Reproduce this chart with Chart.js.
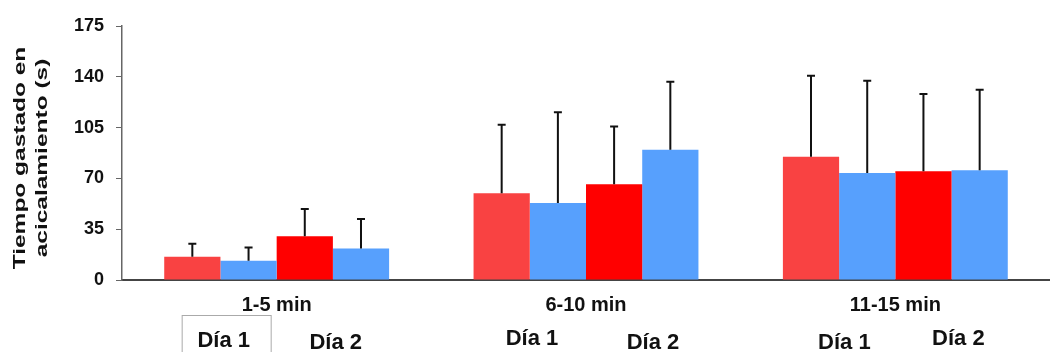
<!DOCTYPE html>
<html>
<head>
<meta charset="utf-8">
<script src="https://cdn.jsdelivr.net/npm/chart.js@4.4.1/dist/chart.umd.min.js"></script>
<style>
  html, body { margin: 0; padding: 0; background: #fff; }
  #wrap { width: 1050px; height: 352px; }
</style>
</head>
<body>
<div id="wrap"><canvas id="grafico"></canvas></div>
<script>
const categorias = ["1-5 min", "6-10 min", "11-15 min"];
const diaLabels = ["Día 1", "Día 2"];
const yTicks = [0, 35, 70, 105, 140, 175];

// medias (s)
const dia1Rojo = [16, 59.7, 84.9];
const dia1Azul = [13.2, 53, 73.7];
const dia2Rojo = [30.2, 65.9, 75];
const dia2Azul = [21.7, 89.7, 75.7];

// desviaciones (solo hacia arriba)
const errDia1Rojo = [9, 47.3, 55.8];
const errDia1Azul = [9.2, 62.5, 63.6];
const errDia2Rojo = [18.8, 39.8, 53.1];
const errDia2Azul = [20.3, 46.9, 55.4];

const FUENTE = "'Liberation Sans', Arial, sans-serif";

const barrasError = {
  id: "barrasError",
  afterDatasetsDraw(chart) {
    const ctx = chart.ctx;
    const y = chart.scales.y;
    ctx.save();
    ctx.strokeStyle = "#111";
    ctx.lineWidth = 2;
    chart.data.datasets.forEach((ds, i) => {
      const meta = chart.getDatasetMeta(i);
      meta.data.forEach((bar, j) => {
        const top = y.getPixelForValue(ds.data[j] + ds.err[j]);
        ctx.beginPath();
        ctx.moveTo(bar.x, bar.y);
        ctx.lineTo(bar.x, top);
        ctx.moveTo(bar.x - 4, top);
        ctx.lineTo(bar.x + 4, top);
        ctx.stroke();
      });
    });
    ctx.restore();
  }
};

const textosExtra = {
  id: "textosExtra",
  afterDraw(chart) {
    const ctx = chart.ctx;
    const x = chart.scales.x;
    const area = chart.chartArea;
    ctx.save();
    // titulo eje y, estirado como en el original
    ctx.fillStyle = "#111";
    ctx.font = "bold 17px " + FUENTE;
    ctx.textAlign = "center";
    ctx.textBaseline = "middle";
    const cy = (area.top + area.bottom) / 2 + 5;
    [["Tiempo gastado en", 20], ["acicalamiento (s)", 42]].forEach(([t, px]) => {
      ctx.save();
      ctx.translate(px, cy);
      ctx.rotate(-Math.PI / 2);
      ctx.scale(1.44, 1);
      ctx.fillText(t, 0, 0);
      ctx.restore();
    });

    // etiquetas Día 1 / Día 2 debajo de cada grupo
    const desfases = [[-53, 59], [-54, 67], [-51, 63]];
    const bases = [[347, 349], [345, 349], [349, 345]];
    ctx.font = "bold 22px " + FUENTE;
    ctx.textBaseline = "alphabetic";
    categorias.forEach((c, i) => {
      const cx = x.getPixelForValue(i);
      diaLabels.forEach((d, k) => {
        ctx.fillText(d, cx + desfases[i][k], bases[i][k]);
      });
    });
    // recuadro que rodea el primer "Día 1"
    const c0 = x.getPixelForValue(0);
    ctx.strokeStyle = "#aaa";
    ctx.lineWidth = 1;
    ctx.strokeRect(c0 - 94.5, 315.5, 89, 40);
    ctx.restore();
  }
};

new Chart(document.getElementById("grafico"), {
  type: "bar",
  data: {
    labels: categorias,
    datasets: [
      { label: "Día 1 (a)", data: dia1Rojo, err: errDia1Rojo, backgroundColor: "#f94242" },
      { label: "Día 1 (b)", data: dia1Azul, err: errDia1Azul, backgroundColor: "#57a0fd" },
      { label: "Día 2 (a)", data: dia2Rojo, err: errDia2Rojo, backgroundColor: "#ff0000" },
      { label: "Día 2 (b)", data: dia2Azul, err: errDia2Azul, backgroundColor: "#57a0fd" }
    ]
  },
  options: {
    responsive: true,
    maintainAspectRatio: false,
    animation: false,
    layout: { padding: { top: 26, right: 0, bottom: 30, left: 0 } },
    datasets: { bar: { categoryPercentage: 0.727, barPercentage: 1 } },
    plugins: { legend: { display: false }, tooltip: { enabled: false } },
    scales: {
      x: {
        grid: { display: false },
        border: { display: true, color: "#444", width: 2 },
        ticks: { color: "#111", padding: 5, font: { family: FUENTE, size: 20, weight: "bold" } }
      },
      y: {
        min: 0,
        max: 175,
        afterFit(scale) { scale.width = 122; },
        afterBuildTicks(scale) { scale.ticks = yTicks.map(v => ({ value: v })); },
        grid: { drawOnChartArea: false, drawTicks: true, tickLength: 6, color: "#666" },
        border: { display: true, color: "#666", width: 1.5 },
        ticks: { color: "#111", padding: 12, font: { family: FUENTE, size: 18, weight: "bold" } }
      }
    }
  },
  plugins: [barrasError, textosExtra]
});
</script>
</body>
</html>
